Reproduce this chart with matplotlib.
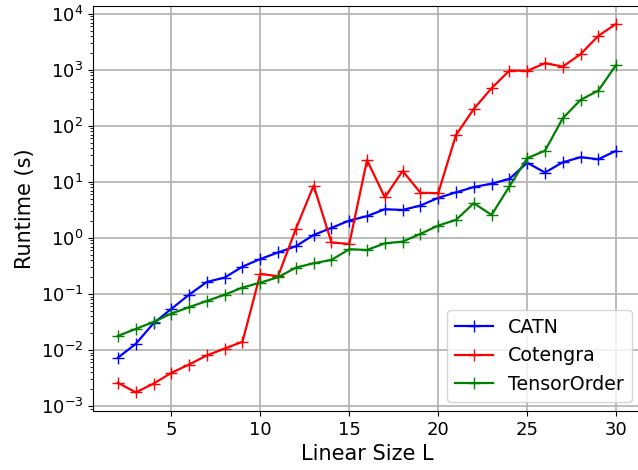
import matplotlib
matplotlib.use('Agg')
import matplotlib.pyplot as plt

sizes = list(range(2, 31))

catn = [0.0073, 0.0128, 0.030, 0.054, 0.097, 0.164, 0.196, 0.307, 0.42, 0.55,
        0.71, 1.13, 1.51, 2.04, 2.45, 3.25, 3.16, 3.78, 5.2, 6.5,
        8.1, 9.3, 11.3, 22.0, 14.7, 22.4, 27.6, 25.4, 36.0]
cotengra = [0.0026, 0.00175, 0.0025, 0.0039, 0.0055, 0.008, 0.0106, 0.014, 0.228, 0.207,
            1.45, 8.6, 0.83, 0.78, 24.5, 5.3, 15.7, 6.4, 6.3, 69.0,
            201.0, 471.0, 973.0, 960.0, 1316.0, 1145.0, 1905.0, 4050.0, 6630.0]
tensororder = [0.0178, 0.0237, 0.0316, 0.0446, 0.058, 0.075, 0.097, 0.13, 0.159, 0.199,
               0.295, 0.353, 0.405, 0.628, 0.61, 0.80, 0.86, 1.18, 1.66, 2.1,
               4.16, 2.58, 8.3, 26.5, 36.0, 137.0, 291.0, 427.0, 1227.0]

fig = plt.figure(figsize=(6.38, 4.70), dpi=100)
ax = fig.add_axes([0.1458, 0.1255, 0.859, 0.8617])

ax.plot(sizes, catn, color='blue', marker='+', markersize=9, linewidth=1.6, label='CATN')
ax.plot(sizes, cotengra, color='red', marker='+', markersize=9, linewidth=1.6, label='Cotengra')
ax.plot(sizes, tensororder, color='green', marker='+', markersize=9, linewidth=1.6, label='TensorOrder')

ax.set_yscale('log')
ax.set_xlim(0.6, 31.4)
ax.set_ylim(10**-3.09, 10**4.14)
ax.grid(True, linewidth=1.2)
ax.tick_params(labelsize=13)
ax.set_xlabel('Linear Size L', fontsize=15)
ax.set_ylabel('Runtime (s)', fontsize=15)
ax.legend(loc='lower right', fontsize=13.7)

plt.savefig('out.png', dpi=100)
